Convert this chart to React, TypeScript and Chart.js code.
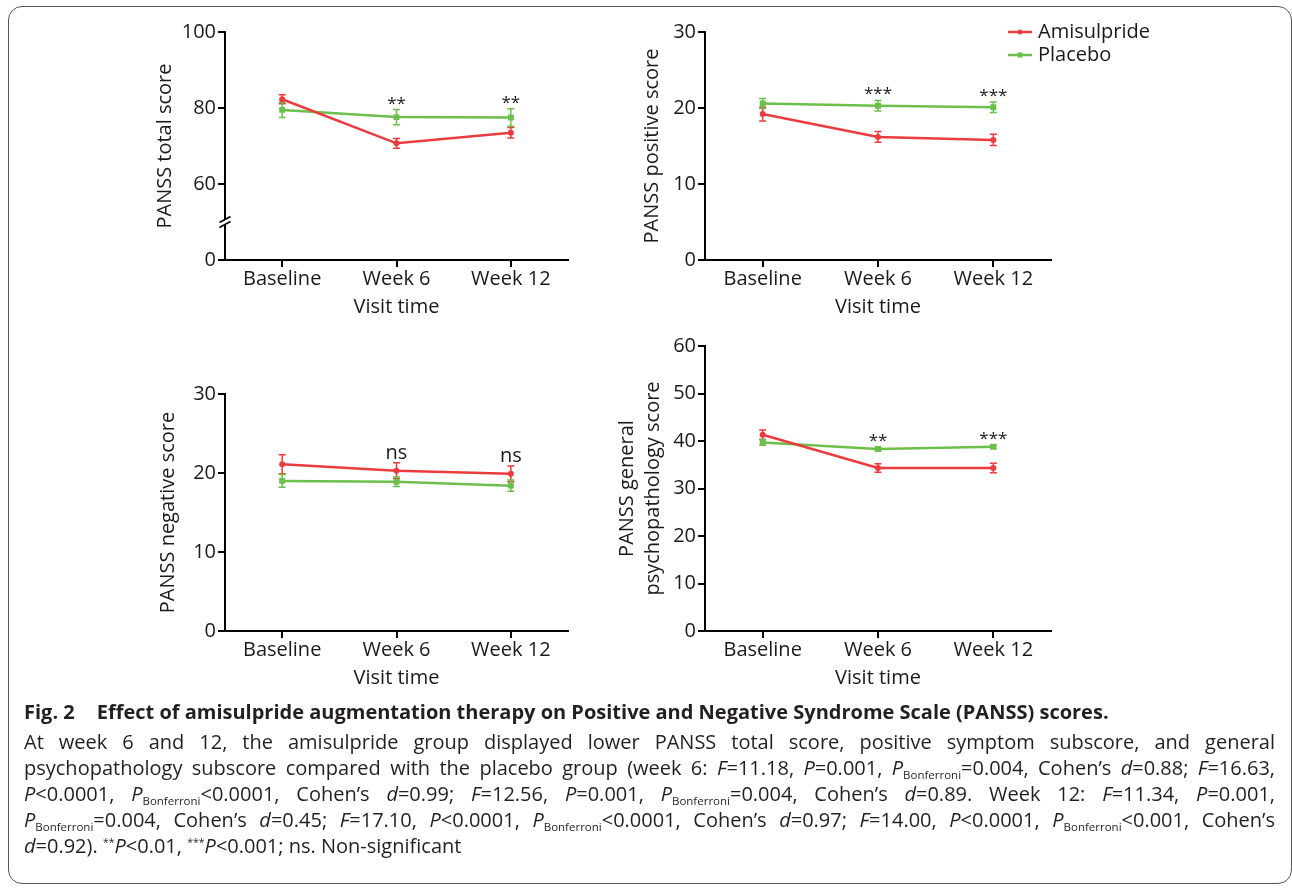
import React, { useEffect, useRef } from 'react';
import { Chart, registerables } from 'chart.js';

Chart.register(...registerables);

// ---------- data ----------
const visits = ['Baseline', 'Week 6', 'Week 12'];
const groupNames = ['Amisulpride', 'Placebo'];
const groupColors = ['#ec3b3e', '#6cbf4b'];
const groupPointStyles = ['circle', 'rect'];

// PANSS total score (broken axis: "0" label sits at the 40 position)
const totalAmisulpride = [82.3, 70.7, 73.5];
const totalAmisulprideSem = [1.2, 1.3, 1.4];
const totalPlacebo = [79.5, 77.6, 77.5];
const totalPlaceboSem = [2.0, 2.0, 2.3];
const totalMarks = ['', '**', '**'];
const totalTickValues = [40, 60, 80, 100];
const totalTickLabels = ['0', '60', '80', '100'];
const totalBreakAt = 50;

// PANSS positive score
const positiveAmisulpride = [19.2, 16.2, 15.8];
const positiveAmisulprideSem = [0.9, 0.7, 0.75];
const positivePlacebo = [20.6, 20.3, 20.1];
const positivePlaceboSem = [0.65, 0.7, 0.7];
const positiveMarks = ['', '***', '***'];
const positiveTickValues = [0, 10, 20, 30];
const positiveTickLabels = ['0', '10', '20', '30'];

// PANSS negative score
const negativeAmisulpride = [21.1, 20.3, 19.9];
const negativeAmisulprideSem = [1.2, 1.0, 1.0];
const negativePlacebo = [19.0, 18.9, 18.4];
const negativePlaceboSem = [0.8, 0.6, 0.7];
const negativeMarks = ['', 'ns', 'ns'];
const negativeTickValues = [0, 10, 20, 30];
const negativeTickLabels = ['0', '10', '20', '30'];

// PANSS general psychopathology score
const generalAmisulpride = [41.3, 34.3, 34.3];
const generalAmisulprideSem = [1.0, 0.9, 1.0];
const generalPlacebo = [39.7, 38.3, 38.8];
const generalPlaceboSem = [0.6, 0.4, 0.4];
const generalMarks = ['', '**', '***'];
const generalTickValues = [0, 10, 20, 30, 40, 50, 60];
const generalTickLabels = ['0', '10', '20', '30', '40', '50', '60'];

const xTitle = 'Visit time';

const captionLead = 'Fig. 2';
const captionTitle =
  'Effect of amisulpride augmentation therapy on Positive and Negative Syndrome Scale (PANSS) scores.';
const captionLines = [
  'At week 6 and 12, the amisulpride group displayed lower PANSS total score, positive symptom subscore, and general',
  'psychopathology subscore compared with the placebo group (week 6: _F_=11.18, _P_=0.001, _P_~Bonferroni~=0.004, Cohen’s _d_=0.88; _F_=16.63,',
  '_P_<0.0001, _P_~Bonferroni~<0.0001, Cohen’s _d_=0.99; _F_=12.56, _P_=0.001, _P_~Bonferroni~=0.004, Cohen’s _d_=0.89. Week 12: _F_=11.34, _P_=0.001,',
  '_P_~Bonferroni~=0.004, Cohen’s _d_=0.45; _F_=17.10, _P_<0.0001, _P_~Bonferroni~<0.0001, Cohen’s _d_=0.97; _F_=14.00, _P_<0.0001, _P_~Bonferroni~<0.001, Cohen’s',
  '_d_=0.92). ^**^_P_<0.01, ^***^_P_<0.001; ns. Non-significant',
];

const FONT = "'Open Sans', 'Noto Sans', sans-serif";
const INK = '#1a1a1a';

// ---------- plugins ----------
const errorBarPlugin = {
  id: 'errorBars',
  beforeDatasetsDraw(chart: any) {
    const { ctx } = chart;
    const yScale = chart.scales.y;
    chart.data.datasets.forEach((ds: any, di: number) => {
      const meta = chart.getDatasetMeta(di);
      const sem: number[] = ds.sem || [];
      ctx.save();
      ctx.strokeStyle = ds.borderColor;
      ctx.lineWidth = 1.5;
      meta.data.forEach((pt: any, j: number) => {
        const v = ds.data[j];
        const e = sem[j];
        if (e == null) return;
        const x = pt.x;
        const yt = yScale.getPixelForValue(v + e);
        const yb = yScale.getPixelForValue(v - e);
        ctx.beginPath();
        ctx.moveTo(x, yt);
        ctx.lineTo(x, yb);
        ctx.moveTo(x - 3.5, yt);
        ctx.lineTo(x + 3.5, yt);
        ctx.moveTo(x - 3.5, yb);
        ctx.lineTo(x + 3.5, yb);
        ctx.stroke();
      });
      ctx.restore();
    });
  },
};

const sigMarkPlugin = {
  id: 'sigMarks',
  afterDatasetsDraw(chart: any, _a: any, opts: any) {
    const marks: string[] = (opts && opts.marks) || [];
    const { ctx } = chart;
    const yScale = chart.scales.y;
    const xScale = chart.scales.x;
    ctx.save();
    ctx.fillStyle = INK;
    ctx.textAlign = 'center';
    ctx.textBaseline = 'alphabetic';
    marks.forEach((m, j) => {
      if (!m) return;
      const size = m.indexOf('*') >= 0 ? opts.starSize || 17 : opts.textSize || 20;
      ctx.font = `${size}px ${FONT}`;
      let top = Infinity;
      chart.data.datasets.forEach((ds: any) => {
        const v = ds.data[j] + ((ds.sem && ds.sem[j]) || 0);
        top = Math.min(top, yScale.getPixelForValue(v));
      });
      const cy = top - (opts.gap || 9);
      const mt = ctx.measureText(m);
      const base = cy + (mt.actualBoundingBoxAscent - mt.actualBoundingBoxDescent) / 2;
      ctx.fillText(m, xScale.getPixelForValue(j), base);
    });
    ctx.restore();
  },
};

const axisBreakPlugin = {
  id: 'axisBreak',
  afterDraw(chart: any, _a: any, opts: any) {
    if (!opts || opts.at == null) return;
    const { ctx } = chart;
    const y = chart.scales.y.getPixelForValue(opts.at);
    const x = chart.chartArea.left;
    ctx.save();
    ctx.fillStyle = '#ffffff';
    ctx.beginPath();
    ctx.moveTo(x - 5, y + 0.5);
    ctx.lineTo(x + 5, y - 5.5);
    ctx.lineTo(x + 5, y - 0.5);
    ctx.lineTo(x - 5, y + 5.5);
    ctx.closePath();
    ctx.fill();
    ctx.strokeStyle = '#000';
    ctx.lineWidth = 1.6;
    [-2.5, 2.5].forEach((d) => {
      ctx.beginPath();
      ctx.moveTo(x - 5.5, y + d + 3);
      ctx.lineTo(x + 5.5, y + d - 3);
      ctx.stroke();
    });
    ctx.restore();
  },
};

const cornerLegendPlugin = {
  id: 'cornerLegend',
  afterDraw(chart: any, _a: any, opts: any) {
    if (!opts || !opts.display) return;
    const { ctx, chartArea } = chart;
    ctx.save();
    chart.data.datasets.forEach((ds: any, i: number) => {
      const y = chartArea.top + opts.offsetY + i * opts.rowGap;
      const x0 = chartArea.right + opts.offsetX;
      ctx.strokeStyle = ds.borderColor;
      ctx.fillStyle = ds.borderColor;
      ctx.lineWidth = 2.5;
      ctx.beginPath();
      ctx.moveTo(x0, y);
      ctx.lineTo(x0 + 24, y);
      ctx.stroke();
      if (ds.pointStyle === 'rect') {
        ctx.fillRect(x0 + 12 - 2.5, y - 2.5, 5, 5);
      } else {
        ctx.beginPath();
        ctx.arc(x0 + 12, y, 2.5, 0, Math.PI * 2);
        ctx.fill();
      }
      ctx.fillStyle = INK;
      ctx.font = `20px ${FONT}`;
      ctx.textAlign = 'left';
      ctx.textBaseline = 'middle';
      ctx.fillText(ds.label, x0 + 30, y);
    });
    ctx.restore();
  },
};

// ---------- panel ----------
type PanelProps = {
  box: { left: number; top: number; width: number; height: number };
  pad: { left: number; top: number; right: number; bottom: number };
  yWidth: number;
  xHeight: number;
  yTitle: string | string[];
  yTitlePad: number;
  yTitleLineHeight?: number;
  amis: number[];
  amisSem: number[];
  plac: number[];
  placSem: number[];
  tickValues: number[];
  tickLabels: string[];
  marks: string[];
  breakAt?: number;
  legend?: boolean;
};

function Panel(p: PanelProps) {
  const ref = useRef<HTMLCanvasElement | null>(null);
  useEffect(() => {
    if (!ref.current) return;
    const values = [p.amis, p.plac];
    const sems = [p.amisSem, p.placSem];
    const chart = new Chart(ref.current, {
      type: 'line',
      data: {
        labels: visits,
        datasets: groupNames.map((name, i) => ({
          label: name,
          data: values[i],
          sem: sems[i],
          borderColor: groupColors[i],
          backgroundColor: groupColors[i],
          borderWidth: 2.5,
          pointStyle: groupPointStyles[i],
          pointRadius: i === 0 ? 3 : 4.2,
          pointBorderWidth: 0,
          tension: 0,
        })) as any,
      },
      plugins: [errorBarPlugin, sigMarkPlugin, axisBreakPlugin, cornerLegendPlugin],
      options: {
        responsive: false,
        animation: false,
        devicePixelRatio: 1,
        layout: { padding: p.pad },
        plugins: {
          legend: { display: false },
          tooltip: { enabled: false },
          sigMarks: { marks: p.marks, starSize: 17, textSize: 20, gap: 9 },
          axisBreak: { at: p.breakAt },
          cornerLegend: { display: !!p.legend, offsetX: -43, offsetY: 0, rowGap: 23 },
        } as any,
        scales: {
          x: {
            type: 'category',
            offset: true,
            afterFit: (s: any) => {
              s.height = p.xHeight;
            },
            grid: {
              display: true,
              drawOnChartArea: false,
              drawTicks: true,
              tickLength: 7,
              color: '#000',
              lineWidth: 2,
              offset: false,
            },
            border: { display: true, color: '#000', width: 2 },
            ticks: {
              color: INK,
              font: { family: FONT, size: 20 },
              padding: 0,
              maxRotation: 0,
              autoSkip: false,
            },
            title: {
              display: true,
              text: xTitle,
              color: INK,
              font: { family: FONT, size: 20 },
              padding: { top: 0, bottom: 1 },
            },
          },
          y: {
            type: 'linear',
            min: p.tickValues[0],
            max: p.tickValues[p.tickValues.length - 1],
            afterBuildTicks: (s: any) => {
              s.ticks = p.tickValues.map((v) => ({ value: v }));
            },
            afterFit: (s: any) => {
              s.width = p.yWidth;
            },
            grid: {
              display: true,
              drawOnChartArea: false,
              drawTicks: true,
              tickLength: 7,
              color: '#000',
              lineWidth: 2,
            },
            border: { display: true, color: '#000', width: 2 },
            ticks: {
              color: INK,
              font: { family: FONT, size: 20 },
              padding: 2,
              callback: (v: any) => {
                const idx = p.tickValues.indexOf(Number(v));
                return idx >= 0 ? p.tickLabels[idx] : '';
              },
            },
            title: {
              display: true,
              text: p.yTitle,
              color: INK,
              font: { family: FONT, size: 20, lineHeight: p.yTitleLineHeight || 1.2 },
              padding: { top: p.yTitlePad, bottom: 0 },
            },
          },
        },
      },
    } as any);
    return () => chart.destroy();
  }, []);
  return (
    <canvas
      ref={ref}
      width={p.box.width}
      height={p.box.height}
      style={{
        position: 'absolute',
        left: p.box.left,
        top: p.box.top,
        width: p.box.width,
        height: p.box.height,
      }}
    />
  );
}

// ---------- caption ----------
function renderMarkup(line: string) {
  const parts = line.split(/(_[^_]+_|~[^~]+~|\^[^^]+\^)/g).filter((s) => s.length > 0);
  return parts.map((s, i) => {
    if (s.startsWith('_') && s.endsWith('_')) return <i key={i}>{s.slice(1, -1)}</i>;
    if (s.startsWith('~') && s.endsWith('~'))
      return (
        <span key={i} style={{ fontSize: 11.5, lineHeight: 1, position: 'relative', top: 4 }}>
          {s.slice(1, -1)}
        </span>
      );
    if (s.startsWith('^') && s.endsWith('^'))
      return (
        <span key={i} style={{ fontSize: 10.5, lineHeight: 1, position: 'relative', top: -7 }}>
          {s.slice(1, -1)}
        </span>
      );
    return <span key={i}>{s}</span>;
  });
}

export default function App() {
  return (
    <div
      style={{
        position: 'absolute',
        left: 0,
        top: 0,
        width: 1292,
        height: 890,
        background: '#fff',
        fontFamily: FONT,
        overflow: 'hidden',
      }}
    >
      <div
        style={{
          position: 'absolute',
          left: 8,
          top: 6,
          width: 1284,
          height: 878,
          boxSizing: 'border-box',
          border: '1.5px solid #555',
          borderRadius: 14,
        }}
      />
      <Panel
        box={{ left: 130, top: 10, width: 450, height: 320 }}
        pad={{ left: 0, top: 22, right: 12, bottom: 10 }}
        yWidth={95}
        xHeight={60}
        yTitle="PANSS total score"
        yTitlePad={23}
        amis={totalAmisulpride}
        amisSem={totalAmisulprideSem}
        plac={totalPlacebo}
        placSem={totalPlaceboSem}
        tickValues={totalTickValues}
        tickLabels={totalTickLabels}
        marks={totalMarks}
        breakAt={totalBreakAt}
      />
      <Panel
        box={{ left: 610, top: 10, width: 560, height: 320 }}
        pad={{ left: 0, top: 22, right: 119, bottom: 10 }}
        yWidth={95}
        xHeight={60}
        yTitle="PANSS positive score"
        yTitlePad={30}
        amis={positiveAmisulpride}
        amisSem={positiveAmisulprideSem}
        plac={positivePlacebo}
        placSem={positivePlaceboSem}
        tickValues={positiveTickValues}
        tickLabels={positiveTickLabels}
        marks={positiveMarks}
        legend
      />
      <Panel
        box={{ left: 130, top: 360, width: 450, height: 340 }}
        pad={{ left: 0, top: 34, right: 12, bottom: 9 }}
        yWidth={95}
        xHeight={60}
        yTitle="PANSS negative score"
        yTitlePad={26}
        amis={negativeAmisulpride}
        amisSem={negativeAmisulprideSem}
        plac={negativePlacebo}
        placSem={negativePlaceboSem}
        tickValues={negativeTickValues}
        tickLabels={negativeTickLabels}
        marks={negativeMarks}
      />
      <Panel
        box={{ left: 610, top: 320, width: 460, height: 380 }}
        pad={{ left: 0, top: 26, right: 19, bottom: 9 }}
        yWidth={95}
        xHeight={60}
        yTitle={['PANSS general', 'psychopathology score']}
        yTitlePad={4}
        yTitleLineHeight={1.3}
        amis={generalAmisulpride}
        amisSem={generalAmisulprideSem}
        plac={generalPlacebo}
        placSem={generalPlaceboSem}
        tickValues={generalTickValues}
        tickLabels={generalTickLabels}
        marks={generalMarks}
      />
      <div
        style={{
          position: 'absolute',
          left: 24,
          top: 699,
          width: 1251,
          color: '#231f20',
          fontSize: 20,
          lineHeight: '26px',
        }}
      >
        <div style={{ fontWeight: 700, whiteSpace: 'nowrap', height: 26 }}>
          <span style={{ marginRight: 22 }}>{captionLead}</span>
          <span>{captionTitle}</span>
        </div>
        <div style={{ height: 4 }} />
        {captionLines.map((line, i) => (
          <div
            key={i}
            style={{
              height: 26,
              whiteSpace: 'nowrap',
              textAlign: 'justify',
              textAlignLast: i === captionLines.length - 1 ? 'left' : 'justify',
            }}
          >
            {renderMarkup(line)}
          </div>
        ))}
      </div>
    </div>
  );
}
